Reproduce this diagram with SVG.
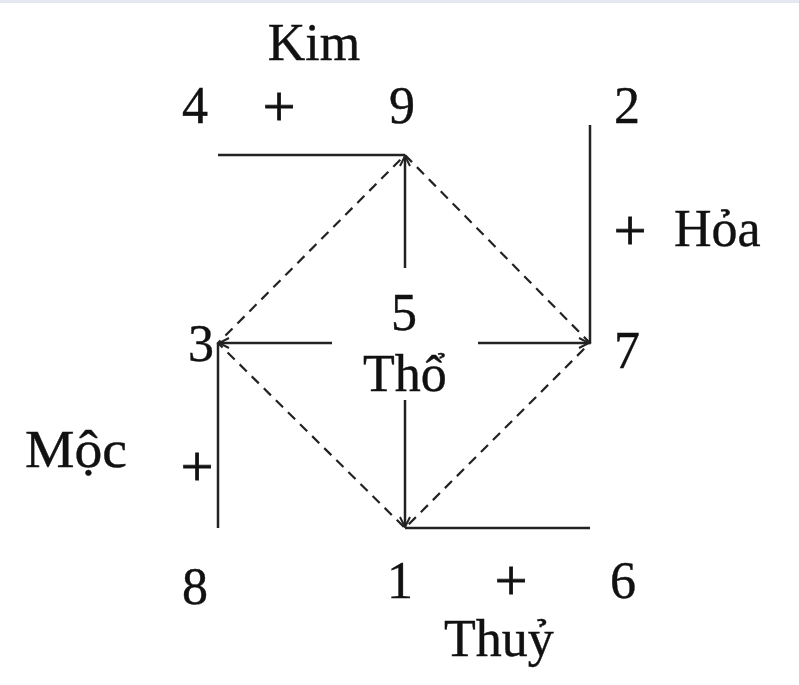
<svg xmlns="http://www.w3.org/2000/svg" width="799" height="685" viewBox="0 0 799 685">
<style>
text{font-family:"Liberation Serif","Times New Roman",serif;font-size:52px;fill:#111;stroke:#111;stroke-width:0.4;}
.c{text-anchor:middle;}
.p{font-size:58px;stroke-width:0.8;}
.s{stroke:#222;stroke-width:2.5;fill:none;}
.d{stroke:#222;stroke-width:2.2;fill:none;stroke-dasharray:10 7;}
</style>
<defs>
<marker id="ah" viewBox="0 0 12 12" refX="11" refY="6" markerWidth="12" markerHeight="12" markerUnits="userSpaceOnUse" orient="auto">
<path d="M1,1 L11,6 L1,11" fill="none" stroke="#222" stroke-width="2"/>
</marker>
</defs>
<rect x="0" y="0" width="799" height="685" fill="#fff"/>
<rect x="0" y="0" width="799" height="3" fill="#e4e8f0"/>
<g id="connectors">
<path class="d" d="M405,155 L590,343 L405,528 L218,343 Z"/>
<line class="s" x1="218" y1="155" x2="405" y2="155"/>
<line class="s" x1="405" y1="268" x2="405" y2="156" marker-end="url(#ah)"/>
<line class="s" x1="590" y1="125" x2="590" y2="343"/>
<line class="s" x1="478" y1="343" x2="589" y2="343" marker-end="url(#ah)"/>
<line class="s" x1="332" y1="343" x2="219" y2="343" marker-end="url(#ah)"/>
<line class="s" x1="218" y1="343" x2="218" y2="528"/>
<line class="s" x1="405" y1="400" x2="405" y2="527" marker-end="url(#ah)"/>
<line class="s" x1="405" y1="528" x2="590" y2="528"/>
</g>
<g id="kim">
<text class="c" x="314" y="60">Kim</text>
<text class="c" x="195" y="123">4</text>
<text class="c p" x="279" y="126">+</text>
<text class="c" x="402" y="123">9</text>
</g>
<g id="hoa">
<text class="c" x="627" y="123">2</text>
<text class="c p" x="630" y="250">+</text>
<text x="674" y="246">Hỏa</text>
<text class="c" x="627" y="368">7</text>
</g>
<g id="tho">
<text class="c" x="404" y="330">5</text>
<text class="c" x="405" y="391">Thổ</text>
</g>
<g id="moc">
<text class="c" x="201" y="361">3</text>
<text x="25" y="467" textLength="102" lengthAdjust="spacingAndGlyphs">Mộc</text>
<text class="c p" x="197" y="486">+</text>
<text class="c" x="195" y="604">8</text>
</g>
<g id="thuy">
<text class="c" x="400" y="598">1</text>
<text class="c p" x="511" y="600">+</text>
<text class="c" x="623" y="598">6</text>
<text class="c" x="499" y="656">Thuỷ</text>
</g>
</svg>
